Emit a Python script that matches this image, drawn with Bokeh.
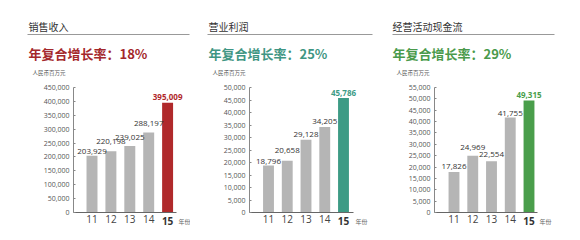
from bokeh.plotting import figure
from bokeh.layouts import row
from bokeh.models import Range1d, FixedTicker, NumeralTickFormatter, Label
from bokeh.embed import file_html
from bokeh.resources import INLINE

# ---- data ----
years = [11, 12, 13, 14, 15]
year_labels = ["11", "12", "13", "14", "15"]
sales = [203929, 220198, 239025, 288197, 395009]
op_profit = [18796, 20658, 29128, 34205, 45786]
cash_flow = [17826, 24969, 22554, 41755, 49315]
titles = ["销售收入", "营业利润", "经营活动现金流"]
rates = ["年复合增长率：18%", "年复合增长率：25%", "年复合增长率：29%"]
unit_label = "人民币百万元"
year_unit = "年份"
y_max = [450000, 50000, 55000]
y_step = [50000, 5000, 5000]
accents = ["#b0292b", "#3d9b85", "#4a9e4b"]
rate_colors = ["#a4282b", "#3f9683", "#4a9a4b"]

GRAY = "#b5b5b5"
CJK = "Noto Sans CJK SC"
NUM = "Open Sans"

# layout constants (local pixels)
panels = [
    dict(w=190, axis_x=73, c11=91.5, ppu=18.9, axend=176, title_x=28, line_x1=27, line_x2=189,
         lift=[4.7, 10, 9, 9.3, 5.6]),
    dict(w=188, axis_x=59, c11=78.0, ppu=18.75, axend=163, title_x=18, line_x1=17, line_x2=182,
         lift=[4.3, 10.4, 5.5, 5.2, 4.8]),
    dict(w=202, axis_x=56, c11=75.5, ppu=18.75, axend=159, title_x=14, line_x1=14, line_x2=176,
         lift=[5.8, 8.6, 6.7, 4.0, 5.7]),
]
H = 240
AX_TOP = 87
AX_BOT = 212


def make_panel(i, values):
    cfg = panels[i]
    ppu = cfg["ppu"]
    ym = y_max[i]
    ypp = ym / (AX_BOT - AX_TOP)

    def px(lx):  # local pixel x -> data x
        return years[0] + (lx - cfg["c11"]) / ppu

    def py(ly):  # local pixel y (from top) -> data y
        return (AX_BOT - ly) * ypp

    p = figure(width=cfg["w"], height=H, output_backend="svg", toolbar_location=None,
               x_range=Range1d(px(0), px(cfg["w"])), y_range=Range1d(py(H), py(0)),
               min_border=0, tools="")
    p.outline_line_color = None
    p.grid.visible = False
    p.background_fill_color = "white"
    p.border_fill_color = "white"

    colors = [GRAY] * (len(years) - 1) + [accents[i]]
    p.vbar(x=years, top=values, width=0.58, color=colors, line_color=None)

    # y axis
    ya = p.yaxis[0]
    ya.fixed_location = px(cfg["axis_x"])
    ya.bounds = (0, ym)
    ya.ticker = FixedTicker(ticks=list(range(0, ym + 1, y_step[i])))
    ya.formatter = NumeralTickFormatter(format="0,0")
    ya.major_label_text_font = NUM
    ya.major_label_text_font_size = "7px"
    ya.major_label_text_color = "#555555"
    ya.axis_line_color = "#888888"
    ya.major_tick_line_color = "#888888"
    ya.major_tick_in = 2
    ya.major_tick_out = 0
    ya.minor_tick_line_color = None
    ya.major_label_standoff = 4

    # x axis
    xa = p.xaxis[0]
    xa.fixed_location = 0
    xa.bounds = (px(cfg["axis_x"]), px(cfg["axend"]))
    xa.ticker = FixedTicker(ticks=years)
    xa.major_label_overrides = {y: (l if y != years[-1] else "") for y, l in zip(years, year_labels)}
    xa.major_label_text_font = NUM
    xa.major_label_text_font_size = "10px"
    xa.major_label_text_color = "#444444"
    xa.axis_line_color = "#666666"
    xa.major_tick_line_color = None
    xa.major_tick_in = 0
    xa.major_tick_out = 0
    xa.minor_tick_line_color = None
    xa.major_label_standoff = 2

    # bold last year label
    p.add_layout(Label(x=years[-1], y=py(220), text=year_labels[-1], text_align="center",
                       text_baseline="middle", text_font=NUM, text_font_size="10px",
                       text_font_style="bold", text_color="#333333"))
    p.add_layout(Label(x=px(cfg["axend"] + 2), y=py(220.5), text=year_unit,
                       text_align="left", text_baseline="middle", text_font=CJK,
                       text_font_size="6px", text_color="#666666"))

    # value labels
    for k, (yr, v) in enumerate(zip(years, values)):
        last = k == len(years) - 1
        p.add_layout(Label(x=yr, y=v, y_offset=cfg["lift"][k], text=f"{v:,}", text_align="center",
                           text_baseline="middle", text_font=NUM, text_font_size="8px",
                           text_font_style="bold" if last else "normal",
                           text_color=accents[i] if last else "#333333"))

    # header texts
    p.add_layout(Label(x=px(cfg["title_x"]), y=py(26), text=titles[i], text_align="left",
                       text_baseline="middle", text_font=CJK, text_font_size="10px",
                       text_color="#333333"))
    p.segment(x0=[px(cfg["line_x1"])], x1=[px(cfg["line_x2"])], y0=[py(34)], y1=[py(34)],
              line_color="#999999", line_width=1)
    p.add_layout(Label(x=px(cfg["title_x"]), y=py(52.5), text=rates[i], text_align="left",
                       text_baseline="middle", text_font=CJK, text_font_size="13px",
                       text_font_style="bold", text_color=rate_colors[i]))
    p.add_layout(Label(x=px(cfg["title_x"] + 4), y=py(72), text=unit_label, text_align="left",
                       text_baseline="middle", text_font=CJK, text_font_size="5.5px",
                       text_color="#555555"))
    return p


p = row(make_panel(0, sales), make_panel(1, op_profit), make_panel(2, cash_flow))
open("out.html", "w").write(file_html(p, INLINE))
